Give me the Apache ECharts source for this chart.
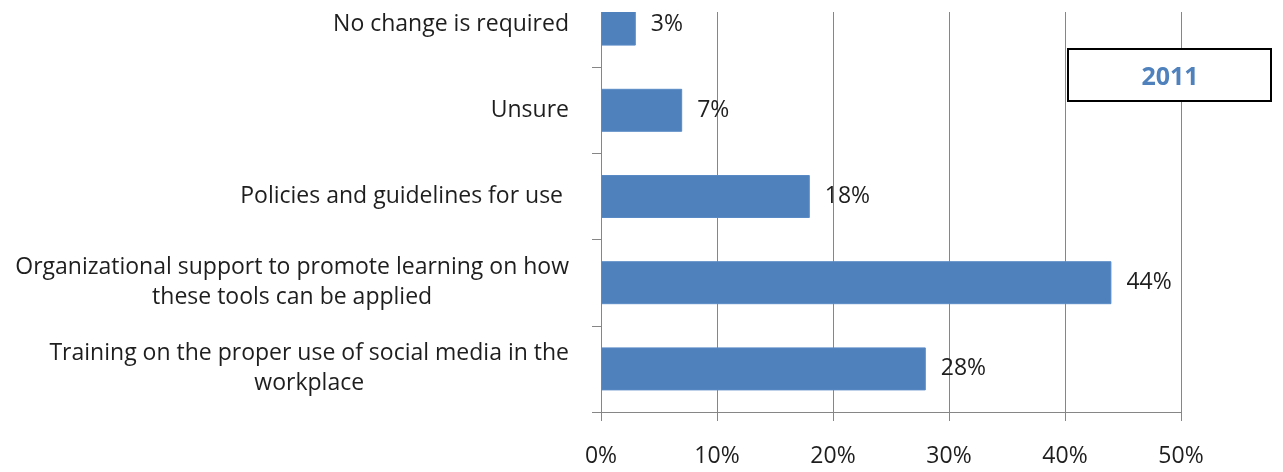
<!DOCTYPE html>
<html>
<head>
<meta charset="utf-8">
<style>
  html, body { margin: 0; padding: 0; background: #fff; }
  #chart { width: 1283px; height: 472px; }
</style>
<script src="https://cdn.jsdelivr.net/npm/echarts@6/dist/echarts.min.js"></script>
</head>
<body>
<div id="chart"></div>
<script>
// ---- data ----
const categories = [
  'Training on the proper use of social media in the\nworkplace',
  'Organizational support to promote learning on how\nthese tools can be applied',
  'Policies and guidelines for use ',
  'Unsure',
  'No change is required'
];
const values = [28, 44, 18, 7, 3];
const xTicks = [0, 10, 20, 30, 40, 50];
const boxTitle = '2011';

// ---- chart ----
const FONT = '"Open Sans", "Noto Sans", sans-serif';
const GRAY = '#868686';
const FS = 23;
const chart = echarts.init(document.getElementById('chart'), null, { renderer: 'canvas' });

const option = {
  animation: false,
  backgroundColor: '#ffffff',
  grid: { left: 601, right: 102, top: -19, bottom: 60, containLabel: false, outerBoundsMode: 'none' },
  xAxis: {
    type: 'value',
    min: xTicks[0],
    max: xTicks[xTicks.length - 1],
    interval: xTicks[1] - xTicks[0],
    axisLine: { show: true, lineStyle: { color: GRAY, width: 1 } },
    axisTick: { show: true, length: 9, lineStyle: { color: GRAY, width: 1 } },
    splitLine: { show: true, lineStyle: { color: GRAY, width: 1 } },
    axisLabel: {
      formatter: '{value}%',
      fontFamily: FONT,
      fontSize: FS,
      color: '#1e1e1e',
      margin: 33
    }
  },
  yAxis: {
    type: 'category',
    data: categories,
    axisLine: { show: true, lineStyle: { color: GRAY, width: 1 } },
    axisTick: { show: true, length: 9, lineStyle: { color: GRAY, width: 1 } },
    splitLine: { show: false },
    axisLabel: {
      margin: 32,
      align: 'right',
      fontFamily: FONT,
      fontSize: FS,
      color: '#1e1e1e',
      lineHeight: 30,
      formatter: function (v) {
        return v.split('\n').map(function (s) { return '{c|' + s + '}'; }).join('\n');
      },
      rich: {
        c: { align: 'center', fontFamily: FONT, fontSize: FS, color: '#1e1e1e', lineHeight: 30 }
      }
    }
  },
  series: [{
    type: 'bar',
    data: values,
    barWidth: 43,
    itemStyle: { color: '#4F81BD', borderColor: '#5a8ac6', borderWidth: 1 },
    label: {
      show: true,
      position: 'right',
      distance: 15,
      formatter: '{c}%',
      fontFamily: FONT,
      fontSize: FS,
      color: '#1e1e1e'
    }
  }],
  graphic: [
    {
      type: 'rect',
      z: 100,
      shape: { x: 590, y: 0, width: 620, height: 12 },
      style: { fill: '#ffffff' }
    },
    {
      type: 'rect',
      z: 100,
      shape: { x: 1068, y: 49, width: 203, height: 52 },
      style: { fill: '#ffffff', stroke: '#000000', lineWidth: 2 }
    },
    {
      type: 'text',
      z: 101,
      x: 1170,
      y: 78,
      style: {
        text: boxTitle,
        fontFamily: FONT,
        fontSize: 25,
        fontWeight: 'bold',
        fill: '#4F81BD',
        align: 'center',
        verticalAlign: 'middle'
      }
    }
  ]
};
chart.setOption(option);
</script>
</body>
</html>
